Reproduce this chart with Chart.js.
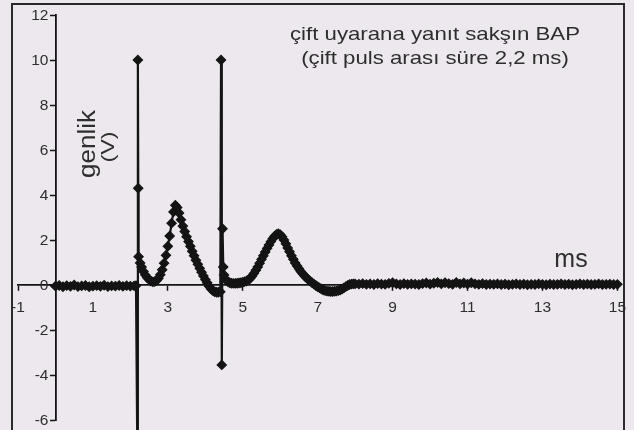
<!DOCTYPE html>
<html>
<head>
<meta charset="utf-8">
<script src="https://cdn.jsdelivr.net/npm/chart.js@4/dist/chart.umd.min.js"></script>
<style>
  html, body { margin: 0; padding: 0; background: #ece8ed; overflow: hidden; }
  #wrap { width: 634px; height: 430px; }
</style>
</head>
<body>
<div id="wrap"><canvas id="c" width="634" height="430"></canvas></div>
<script>
// Paired-pulse compound action potential, sampled trace (ms -> V)
const timeMs = [
  // baseline before the first pulse
  0, 0.1, 0.2, 0.3, 0.4, 0.5, 0.6, 0.7, 0.8, 0.9, 1.0,
  1.1, 1.2, 1.3, 1.4, 1.5, 1.6, 1.7, 1.8, 1.9, 2.0, 2.1, 2.15,
  // first pulse artifact + response
  2.19, 2.2, 2.21, 2.22, 2.26, 2.3, 2.35, 2.4, 2.45, 2.5,
  2.55, 2.6, 2.65, 2.7, 2.75, 2.8, 2.85, 2.9, 2.95, 3.0,
  3.05, 3.1, 3.15, 3.2, 3.25, 3.3, 3.35, 3.4, 3.45, 3.5,
  3.55, 3.6, 3.65, 3.7, 3.75, 3.8, 3.85, 3.9, 3.95, 4.0,
  4.05, 4.1, 4.15, 4.2, 4.25, 4.3, 4.35, 4.4,
  // second pulse artifact + response
  4.42, 4.44, 4.46, 4.48, 4.5, 4.55, 4.6, 4.65, 4.7, 4.75,
  4.8, 4.85, 4.9, 4.95, 5.0, 5.05, 5.1, 5.15, 5.2, 5.25,
  5.3, 5.35, 5.4, 5.45, 5.5, 5.55, 5.6, 5.65, 5.7, 5.75,
  5.8, 5.85, 5.9, 5.95, 6.0, 6.05, 6.1, 6.15, 6.2, 6.25,
  6.3, 6.35, 6.4, 6.45, 6.5, 6.55, 6.6, 6.65, 6.7, 6.75,
  6.8, 6.85, 6.9, 6.95, 7.0, 7.05, 7.1, 7.15, 7.2, 7.25,
  7.3, 7.35, 7.4, 7.45, 7.5, 7.55, 7.6, 7.65, 7.7, 7.75,
  7.8, 7.85, 7.9, 7.95, 8.0,
  // tail
  8.1, 8.2, 8.3, 8.4, 8.5, 8.6, 8.7, 8.8, 8.9, 9.0,
  9.1, 9.2, 9.3, 9.4, 9.5, 9.6, 9.7, 9.8, 9.9, 10.0,
  10.1, 10.2, 10.3, 10.4, 10.5, 10.6, 10.7, 10.8, 10.9, 11.0,
  11.1, 11.2, 11.3, 11.4, 11.5, 11.6, 11.7, 11.8, 11.9, 12.0,
  12.1, 12.2, 12.3, 12.4, 12.5, 12.6, 12.7, 12.8, 12.9, 13.0,
  13.1, 13.2, 13.3, 13.4, 13.5, 13.6, 13.7, 13.8, 13.9, 14.0,
  14.1, 14.2, 14.3, 14.4, 14.5, 14.6, 14.7, 14.8, 14.9, 15.0,
]

const amplitudeV = [
  -0.05, -0.02, -0.08, -0.03, -0.06, 0, -0.07, -0.04, -0.02, -0.08, -0.05,
  -0.03, -0.06, -0.01, -0.07, -0.04, -0.05, -0.02, -0.06, -0.03, -0.05, -0.04, -0.03,

  -8.5, 10, 4.3, 1.26, 0.98, 0.8, 0.6, 0.45, 0.32, 0.24,
  0.17, 0.14, 0.15, 0.2, 0.3, 0.46, 0.68, 0.97, 1.32, 1.72,
  2.18, 2.75, 3.25, 3.55, 3.45, 3.2, 2.9, 2.62, 2.38, 2.15,
  1.93, 1.72, 1.5, 1.3, 1.1, 0.92, 0.74, 0.57, 0.4, 0.24,
  0.1, -0.05, -0.17, -0.25, -0.3, -0.32, -0.32, -0.3,

  10, -3.55, 2.5, 0.8, 0.45, 0.25, 0.15, 0.1, 0.08, 0.07,
  0.07, 0.08, 0.09, 0.1, 0.12, 0.15, 0.18, 0.22, 0.3, 0.4,
  0.52, 0.66, 0.8, 0.97, 1.14, 1.3, 1.47, 1.63, 1.78, 1.93,
  2.06, 2.17, 2.25, 2.28, 2.24, 2.14, 2.0, 1.83, 1.65, 1.48,
  1.3, 1.14, 0.98, 0.85, 0.72, 0.6, 0.5, 0.4, 0.32, 0.24,
  0.17, 0.1, 0.04, -0.02, -0.08, -0.13, -0.18, -0.22, -0.25, -0.27,
  -0.28, -0.29, -0.29, -0.28, -0.27, -0.25, -0.22, -0.18, -0.13, -0.07,
  -0.02, 0.02, 0.04, 0.05, 0.05,

  0.04, 0.06, 0.03, 0.05, 0.02, 0.06, 0.04, 0.03, 0.07, 0.1,
  0.05, 0.02, 0.06, 0.03, 0.05, 0.04, 0.02, 0.06, 0.09, 0.04,
  0.08, 0.11, 0.05, 0.1, 0.06, 0.03, 0.11, 0.05, 0.09, 0.04,
  0.1, 0.05, 0.03, 0.06, 0.02, 0.04, 0.03, 0.05, 0.02, 0.04,
  0.01, 0.03, 0.05, 0.02, 0.04, 0.01, 0.03, 0.02, 0.05, 0.03,
  0.01, 0.04, 0.02, 0.03, 0.05, 0.02, 0.04, 0.01, 0.03, 0.05,
  0.02, 0.04, 0.02, 0.03, 0.05, 0.02, 0.03, 0.04, 0.02, 0.03,
]

const titleLines = ['çift uyarana yanıt sakşın BAP', '(çift puls arası süre 2,2 ms)']
const yTitleLines = ['genlik', '(V)']
const xUnit = 'ms'

const xRange = [-1, 15], xStep = 2
const yRange = [-6, 12], yStep = 2

const INK = '#141414'
const TEXT = '#2e2e2e'
const FONT = '"Liberation Sans", Arial, sans-serif'

// frame of the scanned figure plus the free-floating labels
const decorations = {
  id: 'decorations',
  afterDraw(chart) {
    const { ctx } = chart
    const { x, y } = chart.scales
    ctx.save()
    ctx.strokeStyle = '#2a2a2a'
    ctx.lineWidth = 2
    ctx.beginPath()
    ctx.moveTo(12, 440); ctx.lineTo(12, 4); ctx.lineTo(624, 4); ctx.lineTo(624, 440)
    ctx.stroke()

    ctx.fillStyle = TEXT

    // y tick labels sit left of the axis that crosses at x = 0
    ctx.font = `15.5px ${FONT}`
    ctx.textAlign = 'right'
    ctx.textBaseline = 'middle'
    const axisX = x.getPixelForValue(0)
    y.ticks.forEach(t => ctx.fillText(String(t.value), axisX - 7, y.getPixelForValue(t.value) + 1))

    ctx.textAlign = 'center'
    ctx.textBaseline = 'alphabetic'
    ctx.font = `18.5px ${FONT}`
    titleLines.forEach((line, i) => {
      ctx.save()
      ctx.translate(435, 40 + i * 24)
      ctx.scale(1.2, 1)
      ctx.fillText(line, 0, 0)
      ctx.restore()
    })

    ctx.font = `25px ${FONT}`
    ctx.fillText(xUnit, 571, 267)

    // rotated y title
    ctx.save()
    ctx.translate(95, 144); ctx.rotate(-Math.PI / 2); ctx.scale(1.13, 1)
    ctx.font = `23px ${FONT}`
    ctx.fillText(yTitleLines[0], 0, 0)
    ctx.restore()
    ctx.save()
    ctx.translate(114, 147); ctx.rotate(-Math.PI / 2); ctx.scale(1.3, 1)
    ctx.font = `18px ${FONT}`
    ctx.fillText(yTitleLines[1], 0, 0)
    ctx.restore()
    ctx.restore()
  }
}

const axisCommon = {
  type: 'linear',
  grid: { drawOnChartArea: false, drawTicks: true, tickLength: 5, color: INK, tickWidth: 1.5 },
  border: { display: true, color: INK, width: 1.8 },
}

new Chart(document.getElementById('c'), {
  type: 'scatter',
  data: {
    datasets: [{
      data: timeMs.map((t, i) => ({ x: t, y: amplitudeV[i] })),
      showLine: true,
      borderColor: INK,
      borderWidth: 2.2,
      pointStyle: 'rectRot',
      pointRadius: 4.6,
      pointBackgroundColor: INK,
      pointBorderColor: INK,
      pointBorderWidth: 1.2,
      clip: false,
    }]
  },
  options: {
    responsive: false,
    animation: false,
    layout: { padding: { left: 18, right: 12, top: 15, bottom: 10 } },
    plugins: { legend: { display: false }, tooltip: { enabled: false } },
    scales: {
      x: {
        ...axisCommon,
        min: xRange[0], max: xRange[1],
        position: { y: 0 },
        ticks: { stepSize: xStep, color: TEXT, padding: 8, maxRotation: 0, font: { family: FONT, size: 15.5 } },
      },
      y: {
        ...axisCommon,
        min: yRange[0], max: yRange[1],
        position: { x: 0 },
        ticks: { stepSize: yStep, display: false },
      },
    },
  },
  plugins: [decorations],
})
</script>
</body>
</html>
